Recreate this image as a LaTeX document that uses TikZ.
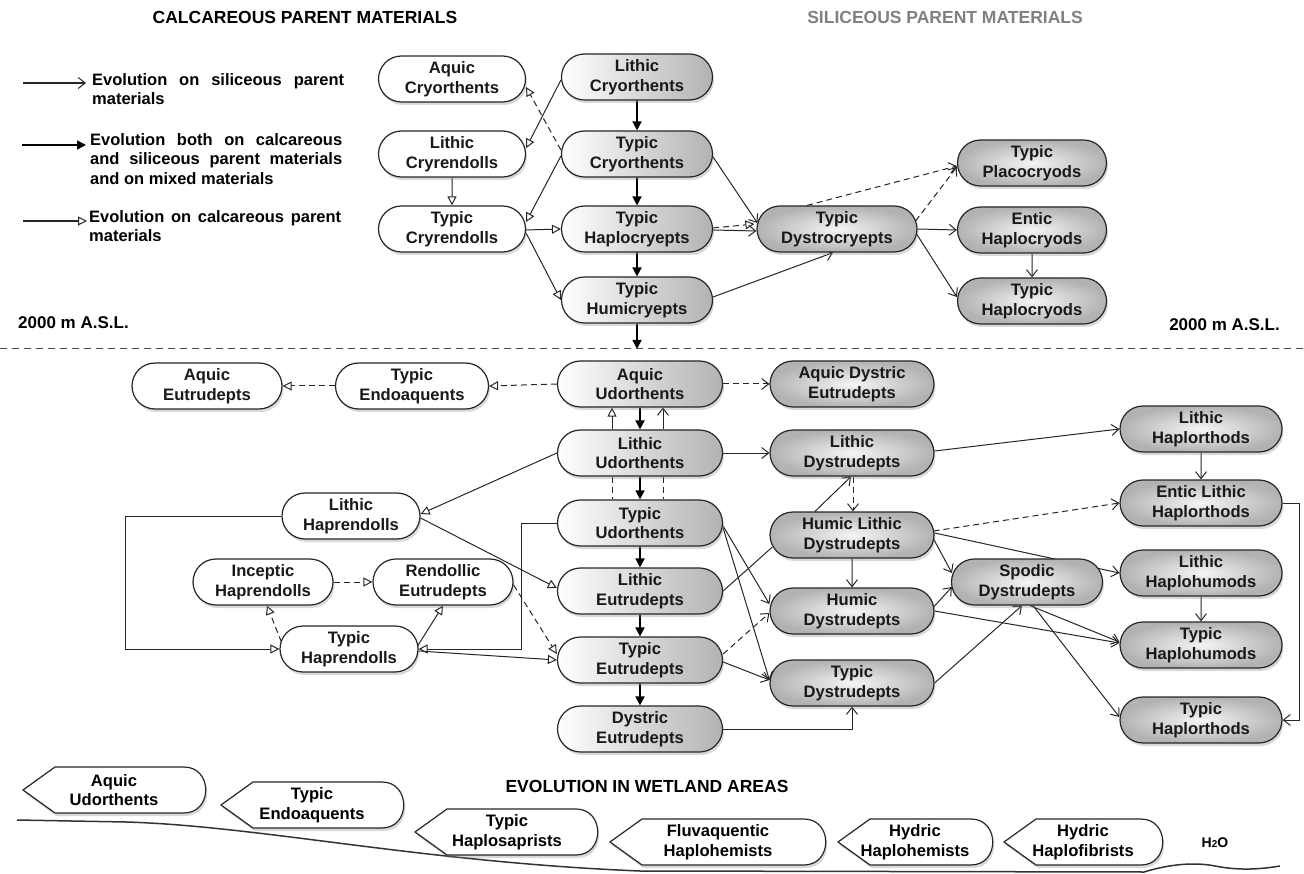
\documentclass[tikz,border=0pt]{standalone}
\usepackage{fontspec}
\setmainfont{Liberation Sans}
\usetikzlibrary{shapes.misc,arrows.meta,shadows,calc}
\pgfdeclarelayer{bg}
\pgfsetlayers{bg,main}
\newcommand\wetland[6]{%
  \draw[wetbox] (#2,#4) -- (#2+32,#4-23) -- (#3-22,#4-23) .. controls (#3+7,#4-23) and (#3+7,#4+23) .. (#3-22,#4+23) -- (#2+32,#4+23) -- cycle;
  \node[wettext] (#1) at (#5,#4) {#6};}
\begin{document}
\begin{tikzpicture}[x=1pt,y=-1pt,
  box/.style={rounded rectangle, draw=black!85, line width=1.2pt, align=center, inner sep=0pt,
    minimum height=46pt, minimum width=151pt, font=\fontsize{16.6}{19.5}\selectfont\bfseries, text=black!90,
    drop shadow={shadow xshift=1.5pt, shadow yshift=-3pt, opacity=0.3}},
  wbox/.style={box, fill=white},
  lbox/.style={box, left color=white, right color=black!30},
  dbox/.style={box, inner color=black!4, outer color=black!30},
  wetbox/.style={draw=black!85, line width=1.2pt, fill=white, drop shadow={shadow xshift=1.5pt, shadow yshift=-3pt, opacity=0.3}},
  wettext/.style={align=center, inner sep=0pt, font=\fontsize{16.6}{19.5}\selectfont\bfseries},
  ln/.style={draw=black!85, line width=1pt},
  sil/.style={ln, -{Straight Barb[length=7pt,width=11pt,line width=1pt]}},
  both/.style={draw=black, line width=1.7pt, -{Triangle[length=9pt,width=9pt]}},
  calcar/.style={ln, -{Triangle[open,length=9pt,width=9pt,line width=1pt,fill=white]}},
  dsh/.style={dash pattern=on 6pt off 4pt},
  hdr/.style={font=\fontsize{17.5}{20}\selectfont\bfseries, inner sep=0pt},
  leg/.style={anchor=north west, inner sep=0pt, text width=252pt, align=justify, font=\fontsize{16.5}{19.7}\selectfont\bfseries}
]
\useasboundingbox (0,0) rectangle (1304,874);

% headers
\node[hdr] (hcal) at (305,17) {CALCAREOUS PARENT MATERIALS};
\node[hdr, text=black!50] (hsil) at (945,17) {SILICEOUS PARENT MATERIALS};
\node[hdr, anchor=west, font=\fontsize{17}{20}\selectfont\bfseries] (aslL) at (18,323) {2000 m A.S.L.};
\node[hdr, anchor=east, font=\fontsize{17}{20}\selectfont\bfseries] (aslR) at (1280,325) {2000 m A.S.L.};
\node[hdr] (hwet) at (647,786) {EVOLUTION IN WETLAND AREAS};

% legend
\coordinate (l1a) at (23,83); \coordinate (l1b) at (86,83);
\coordinate (l2a) at (22,145); \coordinate (l2b) at (86,145);
\coordinate (l3a) at (23,221); \coordinate (l3b) at (87,221);
\draw[sil, line width=1.2pt] (l1a) -- (l1b);
\draw[both, line width=1.5pt] (l2a) -- (l2b);
\draw[calcar, line width=1.2pt] (l3a) -- (l3b);
\node[leg] (t1) at (92,73) {Evolution on siliceous parent\linebreak materials};
\node[leg] (t2) at (90,133) {Evolution both on calcareous\linebreak and siliceous parent materials\linebreak and on mixed materials};
\node[leg] (t3) at (89,210) {Evolution on calcareous parent\linebreak materials};

% dashed altitude line
\coordinate (dl0) at (0,349); \coordinate (dl1) at (1304,349);
\draw[line width=1pt, draw=black!70, dash pattern=on 7pt off 5pt] (dl0) -- (dl1);

% top nodes
\node[wbox, minimum width=147pt] (acry) at (452,79) {Aquic\\Cryorthents};
\node[wbox, minimum width=147pt] (lcre) at (452,154) {Lithic\\Cryrendolls};
\node[wbox, minimum width=147pt] (tcre) at (452,229) {Typic\\Cryrendolls};
\node[lbox] (lcry) at (637,77) {Lithic\\Cryorthents};
\node[lbox] (tcry) at (637,154) {Typic\\Cryorthents};
\node[lbox] (hcre) at (637,229) {Typic\\Haplocryepts};
\node[lbox] (hum) at (637,300) {Typic\\Humicryepts};
\node[dbox, minimum width=160pt] (dys) at (837,229) {Typic\\Dystrocryepts};
\node[dbox, minimum width=149pt] (plac) at (1032,163) {Typic\\Placocryods};
\node[dbox, minimum width=149pt] (entc) at (1032,230) {Entic\\Haplocryods};
\node[dbox, minimum width=149pt] (thc) at (1032,301) {Typic\\Haplocryods};

% lower nodes
\node[wbox, minimum width=150pt] (aeut) at (207,386) {Aquic\\Eutrudepts};
\node[wbox, minimum width=153pt] (tend) at (412,386) {Typic\\Endoaquents};
\node[lbox, minimum width=165pt] (audo) at (640,384) {Aquic\\Udorthents};
\node[dbox, minimum width=164pt] (adys) at (852,384) {Aquic Dystric\\Eutrudepts};
\node[lbox, minimum width=165pt] (ludo) at (640,453) {Lithic\\Udorthents};
\node[lbox, minimum width=165pt] (tudo) at (640,523) {Typic\\Udorthents};
\node[lbox, minimum width=165pt] (leut) at (640,591) {Lithic\\Eutrudepts};
\node[lbox, minimum width=165pt] (teut) at (640,660) {Typic\\Eutrudepts};
\node[lbox, minimum width=165pt] (deut) at (640,729) {Dystric\\Eutrudepts};
\node[dbox, minimum width=164pt] (ldys) at (852,453) {Lithic\\Dystrudepts};
\node[dbox, minimum width=164pt] (hldys) at (852,535) {Humic Lithic\\Dystrudepts};
\node[dbox, minimum width=164pt] (hdys) at (852,611) {Humic\\Dystrudepts};
\node[dbox, minimum width=164pt] (tdys) at (852,683) {Typic\\Dystrudepts};
\node[dbox, minimum width=151pt] (sdys) at (1027,582) {Spodic\\Dystrudepts};
\node[dbox, minimum width=162pt] (lhor) at (1201,429) {Lithic\\Haplorthods};
\node[dbox, minimum width=162pt] (elhor) at (1201,503) {Entic Lithic\\Haplorthods};
\node[dbox, minimum width=162pt] (lhum) at (1201,573) {Lithic\\Haplohumods};
\node[dbox, minimum width=162pt] (thum) at (1201,645) {Typic\\Haplohumods};
\node[dbox, minimum width=162pt] (thor) at (1201,720) {Typic\\Haplorthods};
\node[wbox, minimum width=138pt] (lhap) at (351,516) {Lithic\\Haprendolls};
\node[wbox, minimum width=140pt] (ihap) at (263,582) {Inceptic\\Haprendolls};
\node[wbox, minimum width=140pt] (reut) at (443,582) {Rendollic\\Eutrudepts};
\node[wbox, minimum width=138pt] (thap) at (349,649) {Typic\\Haprendolls};

\coordinate (asl) at (637,349);

\begin{pgfonlayer}{bg}
% top connectors
\draw[calcar] ($(lcry.west)+(0,3)$) -- ($(lcre.east)+(0,-6)$);
\draw[calcar,dsh] ($(tcry.west)+(0,-4)$) -- ($(acry.east)+(0,8)$);
\draw[calcar] ($(tcry.west)+(0,2)$) -- ($(tcre.east)+(0,-7)$);
\draw[calcar] ($(tcre.east)+(0,1)$) -- (hcre.west);
\draw[calcar] ($(tcre.east)+(0,4)$) -- (hum.west);
\draw[calcar] (lcre) -- (tcre);
\draw[both] (lcry) -- (tcry);
\draw[both] (tcry) -- (hcre);
\draw[both] (hcre) -- (hum);
\draw[both] (hum) -- (asl);
\draw[sil] ($(tcry.east)+(0,3)$) -- ($(dys.west)+(1,-6)$);
\draw[calcar,dsh] ($(hcre.east)+(0,-1)$) -- ($(dys.west)+(-2,-5)$);
\draw[sil] ($(hcre.east)+(0,1)$) -- ($(dys.west)+(0,2)$);
\draw[sil] ($(hum.east)+(0,-3)$) -- ($(dys.south)+(-4,0)$);
\draw[sil,dsh] ($(dys.north)+(-30,0)$) -- ($(plac.west)+(0,3)$);
\draw[sil,dsh] ($(dys.east)+(-2,-8)$) -- ($(plac.west)+(0,4)$);
\draw[sil] (dys.east) -- (entc.west);
\draw[sil] ($(dys.east)+(-1,5)$) -- ($(thc.west)+(0,-4)$);
\draw[sil] (entc) -- (thc);

% lower connectors
\draw[calcar,dsh] (audo.west) -- (tend.east);
\draw[calcar,dsh] (tend.west) -- (aeut.east);
\draw[sil,dsh] (audo.east) -- (adys.west);
\draw[both] (audo) -- (ludo);
\draw[calcar] ($(ludo.north)+(-28,0)$) -- ($(audo.south)+(-28,0)$);
\draw[sil] ($(ludo.north)+(23,0)$) -- ($(audo.south)+(23,0)$);
\draw[both] (ludo) -- (tudo);
\draw[ln,dsh] ($(ludo.south)+(-28,0)$) -- ($(tudo.north)+(-28,0)$);
\draw[ln,dsh] ($(ludo.south)+(23,0)$) -- ($(tudo.north)+(23,0)$);
\draw[both] (tudo) -- (leut);
\draw[both] (leut) -- (teut);
\draw[both] (teut) -- (deut);
\draw[sil] (ludo.east) -- (ldys.west);
\draw[calcar] (ludo.west) -- ($(lhap.east)+(0,-2)$);
\draw[calcar] ($(lhap.east)+(0,2)$) -- ($(leut.west)+(0,-3)$);
\draw[calcar] (lhap.west) -- ++(-156,0) |- (thap.west);
\draw[calcar] (tudo.west) -- ++(-35,0) |- (thap.east);
\draw[calcar] ($(thap.east)+(0,2)$) -- (teut.west);
\draw[calcar] ($(thap.east)+(-1,-3)$) -- (reut.south);
\draw[calcar,dsh] ($(thap.west)+(2,-7)$) -- ($(ihap.south)+(4,0)$);
\draw[calcar,dsh] (ihap.east) -- (reut.west);
\draw[calcar,dsh] ($(reut.east)+(0,3)$) -- ($(teut.west)+(0,-6)$);
\draw[sil] ($(tudo.east)+(0,3)$) -- ($(hdys.west)+(0,-7)$);
\draw[sil] ($(tudo.east)+(0,5)$) -- ($(tdys.west)+(0,-3)$);
\draw[ln] (leut.east) -- ($(hldys.west)+(3,12)$);
\draw[sil,dsh] ($(teut.east)+(0,-6)$) -- ($(hdys.west)+(0,2)$);
\draw[sil] ($(teut.east)+(0,2)$) -- ($(tdys.west)+(0,-3)$);
\draw[sil] (deut.east) -| (tdys.south);
\draw[sil] ($(hldys.north)+(-37,0)$) -- ($(ldys.south)+(-1,0)$);
\draw[sil,dsh] ($(ldys.south)+(1,0)$) -- ($(hldys.north)+(1,0)$);
\draw[sil] (hldys) -- (hdys);
\draw[sil] ($(ldys.east)+(0,-2)$) -- (lhor.west);
\draw[sil] (lhor) -- (elhor);
\draw[sil,dsh] ($(hldys.east)+(-1,-4)$) -- (elhor.west);
\draw[sil] ($(hldys.east)+(-1,4)$) -- ($(sdys.west)+(1,-9)$);
\draw[sil] ($(hldys.east)+(0,-2)$) -- (lhum.west);
\draw[sil] ($(hdys.east)+(-1,-4)$) -- ($(sdys.west)+(1,5)$);
\draw[sil] (hdys.east) -- ($(thum.west)+(0,-2)$);
\draw[sil] (tdys.east) -- ($(sdys.south)+(-5,0)$);
\draw[sil] ($(sdys.south)+(3,0)$) -- ($(thum.west)+(0,-3)$);
\draw[sil] ($(sdys.south)+(6,0)$) -- ($(thor.west)+(0,-3)$);
\draw[sil] (elhor.east) -- ++(17,0) |- (thor.east);
\draw[sil] (lhum) -- (thum);
\end{pgfonlayer}

% wetland
\coordinate (g0) at (17,820);
\coordinate (g1) at (1280,866);
\draw[line width=1.5pt, draw=black!80] (g0) -- (126,822) .. controls (260,826) and (420,862) .. (640,871) -- (1144,872) .. controls (1170,864) and (1195,862) .. (1215,866) .. controls (1240,871) and (1262,869) .. (g1);
\wetland{wau}{23}{206}{790}{114}{Aquic\\Udorthents}
\wetland{wte}{221}{404}{805}{312}{Typic\\Endoaquents}
\wetland{wth}{415}{598}{832}{507}{Typic\\Haplosaprists}
\wetland{wfh}{610}{826}{842}{718}{Fluvaquentic\\Haplohemists}
\wetland{whh}{838}{993}{842}{915}{Hydric\\Haplohemists}
\wetland{whf}{1004}{1163}{842}{1083}{Hydric\\Haplofibrists}
\node[wettext, font=\fontsize{14}{16}\selectfont\bfseries] (h2o) at (1215,843) {H{\fontsize{10}{10}\selectfont 2}O};
\end{tikzpicture}
\end{document}
